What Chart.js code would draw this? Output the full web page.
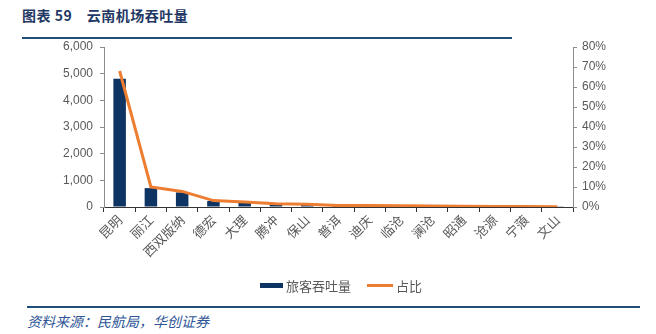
<!DOCTYPE html>
<html>
<head>
<meta charset="utf-8">
<script src="https://cdn.jsdelivr.net/npm/chart.js"></script>
<style>
  body { margin: 0; background: #fff; }
  #wrap { position: relative; width: 656px; height: 334px; overflow: hidden; }
  #title { position: absolute; left: 22px; top: 5px; font: bold 14px "Noto Sans CJK SC", serif; color: #1f3864; letter-spacing: 0.5px; }
  .rule { position: absolute; height: 2px; background: #1f4e79; }
  #src { position: absolute; left: 27px; top: 311px; font: italic 14px "Noto Sans CJK SC", serif; color: #2e5597; }
  #legend { position: absolute; top: 276px; left: 260px; font: 13px "Noto Sans CJK SC", sans-serif; color: #595959; display: flex; align-items: center; }
  .sw { display: inline-block; height: 5px; margin-right: 3px; }
  canvas { position: absolute; left: 0; top: 0; }
</style>
</head>
<body>
<div id="wrap">
  <div id="title">图表 59　云南机场吞吐量</div>
  <div class="rule" style="left:22px; top:37px; width:490px;"></div>
  <canvas id="c" width="656" height="300"></canvas>
  <div id="legend">
    <span class="sw" style="width:23px; background:#0d3463;"></span><span>旅客吞吐量</span>
    <span class="sw" style="width:26px; height:3px; background:#ed7d31; margin-left:16px;"></span><span>占比</span>
  </div>
  <div class="rule" style="left:27px; top:306px; width:613px;"></div>
  <div id="src">资料来源：民航局，华创证券</div>
</div>
<script>
// 云南各机场旅客吞吐量（万人次）及占比
const airports = ['昆明', '丽江', '西双版纳', '德宏', '大理', '腾冲', '保山', '普洱', '迪庆', '临沧', '澜沧', '昭通', '沧源', '宁蒗', '文山'];
const passengers = [4808, 708, 548, 224, 176, 110, 100, 57, 48, 40, 30, 28, 20, 15, 10];
const share = [68.0, 10.0, 7.8, 3.2, 2.5, 1.6, 1.4, 0.8, 0.7, 0.6, 0.5, 0.4, 0.3, 0.2, 0.1];
const leftTicks = [0, 1000, 2000, 3000, 4000, 5000, 6000];
const rightTicks = [0, 10, 20, 30, 40, 50, 60, 70, 80];

const grey = '#595959';
const axisCol = '#8c8c8c';
const tickFont = { family: '"Liberation Sans", Arial, sans-serif', size: 12 };

new Chart(document.getElementById('c'), {
  type: 'bar',
  data: {
    labels: airports,
    datasets: [
      {
        type: 'line', label: '占比', data: share, yAxisID: 'y1',
        borderColor: '#ed7d31', borderWidth: 3, pointRadius: 0, tension: 0, order: 0
      },
      {
        type: 'bar', label: '旅客吞吐量', data: passengers, yAxisID: 'y',
        backgroundColor: '#0d3463', barPercentage: 0.4, categoryPercentage: 1, order: 1
      }
    ]
  },
  options: {
    responsive: false,
    animation: false,
    layout: { padding: { top: 47, left: 0, right: 0, bottom: 0 } },
    plugins: { legend: { display: false }, tooltip: { enabled: false } },
    scales: {
      x: {
        grid: { drawOnChartArea: false, drawTicks: true, tickLength: 5, color: '#333', offset: true },
        border: { color: '#333' },
        ticks: { color: grey, minRotation: 45, maxRotation: 45, font: { family: '"Noto Sans CJK SC", sans-serif', size: 13 }, padding: 0 },
        afterFit: s => { s.height = 93; }
      },
      y: {
        position: 'left', min: 0, max: 6000,
        afterBuildTicks: s => { s.ticks = leftTicks.map(v => ({ value: v })); },
        grid: { drawOnChartArea: false, tickLength: 4, color: axisCol },
        border: { color: axisCol },
        ticks: { color: grey, font: tickFont, padding: 7, callback: v => v.toLocaleString('en-US') },
        afterFit: s => { s.width = 104; }
      },
      y1: {
        position: 'right', min: 0, max: 80,
        afterBuildTicks: s => { s.ticks = rightTicks.map(v => ({ value: v })); },
        grid: { drawOnChartArea: false, tickLength: 4, color: axisCol },
        border: { color: axisCol },
        ticks: { color: grey, font: tickFont, padding: 5, callback: v => v + '%' },
        afterFit: s => { s.width = 83; }
      }
    }
  }
});
</script>
</body>
</html>
